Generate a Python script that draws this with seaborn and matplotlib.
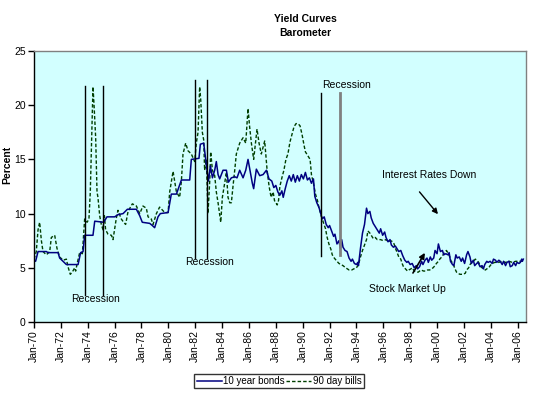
import matplotlib
matplotlib.use("Agg")
import matplotlib.pyplot as plt
import pandas as pd
import seaborn as sns

# 10 year bonds (decimal year, percent)
bond_years = [1970.0, 1970.12, 1970.3, 1970.92, 1971.04, 1971.79, 1971.91, 1972.16, 1972.41, 1973.28,
              1973.47, 1973.65, 1973.77, 1974.39, 1974.52, 1975.19, 1975.43, 1976.0, 1976.25, 1976.63,
              1976.95, 1977.62, 1977.87, 1978.06, 1978.61, 1978.81, 1978.98, 1979.23, 1979.4, 1979.98,
              1980.22, 1980.6, 1980.97, 1981.59, 1981.71, 1982.28, 1982.38, 1982.63, 1982.78, 1982.88,
              1982.98, 1983.13, 1983.28, 1983.45, 1983.57, 1983.7, 1983.82, 1984.07, 1984.32, 1984.47,
              1984.69, 1984.94, 1985.11, 1985.31, 1985.56, 1985.76, 1985.93, 1986.1, 1986.25, 1986.35,
              1986.55, 1986.8, 1987.05, 1987.3, 1987.49, 1987.7, 1987.85, 1988.0, 1988.15, 1988.3,
              1988.45, 1988.55, 1988.7, 1988.85, 1989.0, 1989.15, 1989.3, 1989.45, 1989.6, 1989.75,
              1989.9, 1990.05, 1990.2, 1990.35, 1990.5, 1990.65, 1990.8, 1990.9, 1991.05, 1991.2,
              1991.3, 1991.45, 1991.6, 1991.75, 1991.9, 1992.0, 1992.15, 1992.3, 1992.4, 1992.55,
              1992.7, 1992.8, 1992.9, 1993.0, 1993.15, 1993.3, 1993.45, 1993.6, 1993.7, 1993.85,
              1994.0, 1994.1, 1994.15, 1994.3, 1994.45, 1994.6, 1994.75, 1994.85, 1995.0, 1995.1,
              1995.25, 1995.4, 1995.55, 1995.7, 1995.8, 1995.95, 1996.1, 1996.2, 1996.35, 1996.5,
              1996.6, 1996.75, 1996.9, 1997.0, 1997.15, 1997.3, 1997.45, 1997.6, 1997.75, 1997.85,
              1998.0, 1998.15, 1998.3, 1998.45, 1998.55, 1998.7, 1998.85, 1998.95, 1999.1, 1999.25,
              1999.35, 1999.5, 1999.6, 1999.75, 1999.85, 2000.0, 2000.1, 2000.25, 2000.4, 2000.5,
              2000.65, 2000.8, 2000.9, 2001.0, 2001.15, 2001.25, 2001.4, 2001.5, 2001.65, 2001.8,
              2001.9, 2002.05, 2002.2, 2002.3, 2002.45, 2002.55, 2002.7, 2002.8, 2002.95, 2003.05,
              2003.2, 2003.35, 2003.45, 2003.55, 2003.7, 2003.8, 2003.95, 2004.1, 2004.2, 2004.35,
              2004.45, 2004.6, 2004.7, 2004.85, 2004.95, 2005.1, 2005.2, 2005.35, 2005.45, 2005.6,
              2005.7, 2005.85, 2005.95, 2006.1, 2006.2, 2006.3, 2006.35, 2006.42]
bond_vals = [5.7, 5.6, 6.5, 6.5, 6.4, 6.4, 5.9, 5.6, 5.3, 5.3,
             6.4, 6.5, 8.0, 8.0, 9.3, 9.2, 9.7, 9.7, 9.9, 10.0,
             10.4, 10.4, 9.8, 9.2, 9.1, 8.9, 8.7, 9.7, 10.0, 10.1,
             11.8, 11.8, 13.1, 13.1, 15.0, 15.1, 16.4, 16.5, 15.0, 14.0,
             13.0, 14.4, 13.3, 14.0, 14.8, 13.6, 13.2, 14.0, 14.0, 12.9,
             13.3, 13.4, 13.3, 14.0, 13.3, 14.0, 15.0, 13.8, 12.8, 12.3,
             14.1, 13.5, 13.6, 14.0, 13.2, 13.0, 12.4, 12.6, 12.0, 11.7,
             12.1, 11.5, 12.3, 13.0, 13.5, 13.0, 13.6, 12.9, 13.5, 13.0,
             13.6, 13.2, 13.8, 13.1, 13.3, 12.8, 13.2, 11.6, 11.0, 10.6,
             10.2, 9.5, 9.7, 9.0, 8.7, 8.9, 8.4, 7.9, 8.1, 7.2,
             7.5, 6.8, 7.6, 6.9, 6.6, 6.5, 5.9, 5.6, 5.8, 5.4,
             5.3, 5.5, 5.2, 6.8, 8.2, 9.0, 10.5, 10.0, 10.2, 9.6,
             9.1, 8.8, 8.5, 8.2, 8.6, 8.0, 8.3, 7.8, 7.4, 7.6,
             7.1, 6.9, 7.0, 6.8, 6.5, 6.6, 6.1, 5.7, 5.5, 5.6,
             5.3, 5.4, 5.0, 5.2, 4.9, 5.1, 5.6, 5.3, 5.7, 5.9,
             5.5, 6.0, 5.7, 5.9, 6.6, 6.3, 7.2, 6.5, 6.6, 6.2,
             6.3, 6.2, 6.4, 5.6, 5.3, 5.2, 6.2, 5.9, 6.0, 5.6,
             5.9, 5.4, 6.2, 6.5, 6.0, 5.4, 5.7, 5.2, 5.4, 5.5,
             5.1, 5.2, 4.9, 5.3, 5.6, 5.5, 5.6, 5.4, 5.8, 5.7,
             5.5, 5.7, 5.6, 5.3, 5.6, 5.2, 5.5, 5.6, 5.1, 5.2,
             5.5, 5.2, 5.5, 5.4, 5.5, 5.8, 5.6, 5.8]

# 90 day bills (decimal year, percent)
bill_years = [1970.0, 1970.17, 1970.3, 1970.42, 1970.55, 1970.67, 1970.92, 1971.17, 1971.29, 1971.41,
              1971.54, 1971.71, 1971.91, 1972.16, 1972.41, 1972.53, 1972.7, 1972.85, 1973.03, 1973.1,
              1973.23, 1973.4, 1973.6, 1973.77, 1973.95, 1974.09, 1974.19, 1974.29, 1974.39, 1974.47,
              1974.59, 1974.69, 1974.76, 1974.89, 1975.01, 1975.14, 1975.24, 1975.33, 1975.51, 1975.76,
              1975.88, 1976.13, 1976.25, 1976.5, 1976.67, 1976.82, 1977.0, 1977.32, 1977.62, 1977.87,
              1978.11, 1978.36, 1978.49, 1978.73, 1978.86, 1979.11, 1979.35, 1979.73, 1979.98, 1980.1,
              1980.35, 1980.47, 1980.6, 1980.84, 1980.97, 1981.09, 1981.29, 1981.46, 1981.71, 1981.96,
              1982.08, 1982.21, 1982.33, 1982.41, 1982.53, 1982.63, 1982.7, 1982.83, 1982.95, 1983.08,
              1983.15, 1983.28, 1983.45, 1983.57, 1983.7, 1983.9, 1984.02, 1984.19, 1984.32, 1984.44,
              1984.57, 1984.69, 1984.81, 1984.94, 1985.06, 1985.31, 1985.56, 1985.76, 1985.93, 1986.05,
              1986.18, 1986.35, 1986.6, 1986.75, 1986.92, 1987.17, 1987.35, 1987.5, 1987.65, 1987.8,
              1987.9, 1988.0, 1988.1, 1988.2, 1988.3, 1988.45, 1988.6, 1988.75, 1988.9, 1989.05,
              1989.2, 1989.35, 1989.5, 1989.65, 1989.8, 1989.95, 1990.1, 1990.2, 1990.35, 1990.55,
              1990.65, 1990.8, 1990.95, 1991.1, 1991.2, 1991.45, 1991.7, 1991.8, 1991.95, 1992.1,
              1992.2, 1992.35, 1992.55, 1992.7, 1992.85, 1993.0, 1993.2, 1993.45, 1993.65, 1993.8,
              1994.0, 1994.15, 1994.3, 1994.45, 1994.6, 1994.75, 1994.85, 1995.0, 1995.1, 1995.25,
              1995.4, 1995.55, 1995.8, 1996.0, 1996.2, 1996.4, 1996.55, 1996.7, 1996.8, 1996.9,
              1997.0, 1997.15, 1997.3, 1997.4, 1997.5, 1997.65, 1997.8, 1997.9, 1998.05, 1998.15,
              1998.3, 1998.45, 1998.6, 1998.8, 1999.0, 1999.15, 1999.3, 1999.45, 1999.6, 1999.7,
              1999.85, 1999.95, 2000.1, 2000.2, 2000.35, 2000.45, 2000.6, 2000.7, 2000.8, 2000.95,
              2001.05, 2001.2, 2001.3, 2001.45, 2001.55, 2001.7, 2001.85, 2001.95, 2002.1, 2002.2,
              2002.35, 2002.45, 2002.6, 2002.7, 2002.85, 2002.95, 2003.1, 2003.2, 2003.35, 2003.45,
              2003.6, 2003.7, 2003.85, 2003.95, 2004.1, 2004.3, 2004.6, 2004.8, 2005.1, 2005.35,
              2005.6, 2005.85, 2006.1, 2006.3, 2006.42]
bill_vals = [5.8, 6.5, 8.5, 9.2, 7.5, 6.5, 6.2, 6.5, 7.8, 7.9,
             8.0, 6.8, 6.0, 5.7, 5.8, 5.1, 4.4, 4.6, 5.0, 4.7,
             5.5, 6.4, 6.3, 9.5, 9.2, 9.5, 12.0, 16.8, 21.7, 20.0,
             17.0, 12.0, 11.5, 9.8, 9.0, 8.5, 9.8, 8.5, 8.1, 8.0,
             7.6, 9.6, 10.3, 9.5, 9.2, 9.0, 10.2, 10.9, 10.7, 10.0,
             10.7, 10.5, 9.7, 9.5, 9.0, 10.0, 10.6, 10.1, 10.1, 12.0,
             13.9, 13.0, 12.0, 11.5, 13.0, 15.5, 16.5, 15.8, 15.5, 14.8,
             16.5, 17.5, 21.7, 20.5, 17.5, 16.8, 14.0, 15.0, 10.0, 13.0,
             15.7, 14.0, 13.5, 12.0, 11.0, 9.2, 11.5, 12.8, 13.8, 11.5,
             11.0, 11.0, 12.5, 14.0, 15.5, 16.5, 17.0, 16.5, 19.7, 18.0,
             16.5, 15.0, 17.8, 16.5, 15.5, 16.7, 14.0, 12.5, 11.5, 12.0,
             11.2, 11.0, 10.8, 11.2, 12.5, 13.3, 14.0, 15.0, 15.5, 16.6,
             17.3, 18.0, 18.3, 18.3, 18.1, 17.3, 16.3, 15.7, 15.4, 15.0,
             13.6, 12.8, 11.8, 11.2, 10.6, 9.5, 8.6, 7.9, 7.2, 6.7,
             6.2, 5.9, 5.6, 5.4, 5.3, 5.2, 5.0, 4.8, 4.8, 4.9,
             5.0, 5.3, 6.0, 6.6, 7.1, 7.6, 8.4, 8.2, 8.0, 7.7,
             7.8, 7.6, 7.6, 7.5, 7.6, 7.4, 7.5, 7.4, 7.2, 6.8,
             6.5, 6.0, 5.8, 5.4, 5.1, 4.9, 4.7, 4.8, 4.9, 5.0,
             4.7, 4.6, 4.6, 4.8, 4.7, 4.7, 4.8, 4.8, 4.9, 5.0,
             5.2, 5.4, 5.6, 5.8, 6.0, 6.2, 6.5, 6.6, 6.4, 6.0,
             5.6, 5.4, 5.0, 4.6, 4.5, 4.4, 4.4, 4.4, 4.5, 4.8,
             5.0, 5.3, 5.5, 5.6, 5.8, 5.7, 5.5, 5.2, 5.0, 4.9,
             4.8, 4.9, 5.0, 5.2, 5.4, 5.5, 5.5, 5.6, 5.5, 5.6,
             5.5, 5.6, 5.6, 5.6, 5.7]

# recession markers: x position, bottom, top
recession_x = [1973.82, 1975.14, 1981.99, 1982.9, 1991.39, 1992.81]
recession_lo = [2.5, 2.5, 5.9, 5.9, 6.1, 6.2]
recession_hi = [21.8, 21.8, 22.3, 22.3, 21.1, 21.1]
recession_col = ["black", "black", "black", "black", "black", "#808080"]

tick_years = list(range(1970, 2007, 2))
tick_labels = ["Jan-%02d" % (y % 100) for y in tick_years]

bonds = pd.DataFrame({"year": bond_years, "rate": bond_vals})
bills = pd.DataFrame({"year": bill_years, "rate": bill_vals})

plt.rcParams["font.family"] = ["Liberation Sans", "DejaVu Sans"]
fig = plt.figure(figsize=(5.33, 3.94), dpi=100)
ax = fig.add_axes([34 / 533, 1 - 322 / 394, 492 / 533, 271 / 394])
ax.set_facecolor("#D2FFFF")

sns.lineplot(data=bills, x="year", y="rate", ax=ax, color="#003F00", lw=1.0,
             linestyle=(0, (2.5, 1.5)), estimator=None, sort=False, label="90 day bills")
sns.lineplot(data=bonds, x="year", y="rate", ax=ax, color="#000080", lw=1.1,
             estimator=None, sort=False, label="10 year bonds")

for x, lo, hi, c in zip(recession_x, recession_lo, recession_hi, recession_col):
    ax.plot([x, x], [lo, hi], color=c, lw=1.0 if c == "black" else 2.0, zorder=4)

fs = 7.5
ax.text(1974.57, 2.1, "Recession", ha="center", va="center", fontsize=fs)
ax.text(1983.08, 5.5, "Recession", ha="center", va="center", fontsize=fs)
ax.text(1993.28, 21.9, "Recession", ha="center", va="center", fontsize=fs)
ax.text(1999.38, 13.6, "Interest Rates Down", ha="center", va="center", fontsize=fs)
ax.text(1997.76, 3.07, "Stock Market Up", ha="center", va="center", fontsize=fs)
ax.annotate("", xy=(2000.2, 9.75), xytext=(1998.56, 12.2), zorder=5,
            arrowprops=dict(arrowstyle="-|>", color="black", lw=1.0, mutation_scale=8))
ax.annotate("", xy=(1999.2, 6.6), xytext=(1998.1, 4.3), zorder=5,
            arrowprops=dict(arrowstyle="-|>", color="black", lw=1.2, mutation_scale=8))

ax.set_xlim(1970, 2006.62)
ax.set_ylim(0, 25)
ax.set_yticks([0, 5, 10, 15, 20, 25])
ax.set_xticks(tick_years)
ax.set_xticklabels(tick_labels, rotation=90)
ax.tick_params(axis="both", labelsize=fs, length=4, width=1, color="black", direction="out", pad=2)
ax.set_xlabel("")
ax.set_ylabel("")
ax.grid(False)
for side in ["left", "bottom"]:
    ax.spines[side].set_color("black")
    ax.spines[side].set_linewidth(1.0)
for side in ["top", "right"]:
    ax.spines[side].set_color("#808080")
    ax.spines[side].set_linewidth(1.0)

handles, labels = ax.get_legend_handles_labels()
leg = ax.legend(handles[::-1], labels[::-1], ncol=2, loc="center",
                bbox_to_anchor=(279 / 533, 1 - 381 / 394), bbox_transform=fig.transFigure,
                fontsize=7, frameon=True, fancybox=False, handlelength=2.6, handletextpad=0.15,
                columnspacing=0.1, borderpad=0.25, borderaxespad=0)
leg.get_frame().set_edgecolor("black")
leg.get_frame().set_linewidth(1.0)

fig.text(305 / 533, 1 - 19 / 394, "Yield Curves", ha="center", va="center", fontsize=fs, fontweight="bold")
fig.text(305 / 533, 1 - 33 / 394, "Barometer", ha="center", va="center", fontsize=fs, fontweight="bold")
fig.text(7 / 533, 1 - 165 / 394, "Percent", ha="center", va="center", rotation=90,
         fontsize=fs, fontweight="bold")

fig.savefig("out.png", dpi=100)
